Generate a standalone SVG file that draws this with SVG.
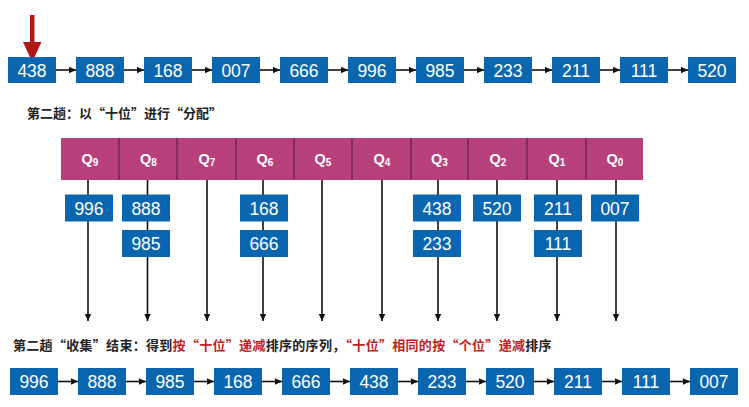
<svg xmlns="http://www.w3.org/2000/svg" width="749" height="407" viewBox="0 0 749 407">
<defs>
<marker id="ah" markerWidth="8" markerHeight="8" refX="7" refY="4" orient="auto" markerUnits="userSpaceOnUse">
<path d="M0,0.8 L7,4 L0,7.2 z" fill="#111"/>
</marker>
<style>
.b{fill:#0b66b0}
.n{font-family:"Liberation Sans",Arial,sans-serif;font-size:17.5px;fill:#fff;text-anchor:middle}
.c{stroke:#111;stroke-width:1.6;fill:none}
.v{stroke:#111;stroke-width:1.6;fill:none;marker-end:url(#ah)}
.q{font-family:"Liberation Sans",Arial,sans-serif;font-weight:bold;font-size:14.5px;fill:#fff;text-anchor:middle}
.s{font-size:10px}
.t{font-family:"Noto Sans CJK SC","Noto Sans",sans-serif;font-weight:bold;font-size:13px;fill:#222}
.r{fill:#c01f1f}
</style>
</defs>
<rect width="749" height="407" fill="#fff"/>

<!-- pointer arrow -->
<g id="pointer">
<rect x="30" y="15" width="4.5" height="28" fill="#b01818"/>
<path d="M23,42 L41.5,42 L32.2,62 z" fill="#b01818"/>
</g>

<!-- connectors -->
<g id="connectors">
<g id="top-links">
<line class="c" x1="56" y1="70" x2="76" y2="70" marker-end="url(#ah)"/>
<line class="c" x1="124" y1="70" x2="144" y2="70" marker-end="url(#ah)"/>
<line class="c" x1="192" y1="70" x2="212" y2="70" marker-end="url(#ah)"/>
<line class="c" x1="260" y1="70" x2="280" y2="70" marker-end="url(#ah)"/>
<line class="c" x1="328" y1="70" x2="348" y2="70" marker-end="url(#ah)"/>
<line class="c" x1="396" y1="70" x2="416" y2="70" marker-end="url(#ah)"/>
<line class="c" x1="464" y1="70" x2="484" y2="70" marker-end="url(#ah)"/>
<line class="c" x1="532" y1="70" x2="552" y2="70" marker-end="url(#ah)"/>
<line class="c" x1="600" y1="70" x2="620" y2="70" marker-end="url(#ah)"/>
<line class="c" x1="668" y1="70" x2="688" y2="70" marker-end="url(#ah)"/>
</g>
<g id="bucket-lines">
<line class="v" x1="88" y1="180" x2="88" y2="321"/>
<line class="v" x1="147.5" y1="180" x2="147.5" y2="321"/>
<line class="v" x1="207" y1="180" x2="207" y2="321"/>
<line class="v" x1="263" y1="180" x2="263" y2="321"/>
<line class="v" x1="322" y1="180" x2="322" y2="321"/>
<line class="v" x1="382" y1="180" x2="382" y2="321"/>
<line class="v" x1="438" y1="180" x2="438" y2="321"/>
<line class="v" x1="497" y1="180" x2="497" y2="321"/>
<line class="v" x1="557" y1="180" x2="557" y2="321"/>
<line class="v" x1="616" y1="180" x2="616" y2="321"/>
</g>
<g id="bottom-links">
<line class="c" x1="58" y1="381.5" x2="78" y2="381.5" marker-end="url(#ah)"/>
<line class="c" x1="126" y1="381.5" x2="146" y2="381.5" marker-end="url(#ah)"/>
<line class="c" x1="194" y1="381.5" x2="214" y2="381.5" marker-end="url(#ah)"/>
<line class="c" x1="262" y1="381.5" x2="282" y2="381.5" marker-end="url(#ah)"/>
<line class="c" x1="330" y1="381.5" x2="350" y2="381.5" marker-end="url(#ah)"/>
<line class="c" x1="398" y1="381.5" x2="418" y2="381.5" marker-end="url(#ah)"/>
<line class="c" x1="466" y1="381.5" x2="486" y2="381.5" marker-end="url(#ah)"/>
<line class="c" x1="534" y1="381.5" x2="554" y2="381.5" marker-end="url(#ah)"/>
<line class="c" x1="602" y1="381.5" x2="622" y2="381.5" marker-end="url(#ah)"/>
<line class="c" x1="670" y1="381.5" x2="690" y2="381.5" marker-end="url(#ah)"/>
</g>
</g>

<!-- top row -->
<g id="top-row">
<g id="t0"><rect class="b" x="8" y="57" width="48" height="26"/><text class="n" x="32" y="76.5">438</text></g>
<g id="t1"><rect class="b" x="76" y="57" width="48" height="26"/><text class="n" x="100" y="76.5">888</text></g>
<g id="t2"><rect class="b" x="144" y="57" width="48" height="26"/><text class="n" x="168" y="76.5">168</text></g>
<g id="t3"><rect class="b" x="212" y="57" width="48" height="26"/><text class="n" x="236" y="76.5">007</text></g>
<g id="t4"><rect class="b" x="280" y="57" width="48" height="26"/><text class="n" x="304" y="76.5">666</text></g>
<g id="t5"><rect class="b" x="348" y="57" width="48" height="26"/><text class="n" x="372" y="76.5">996</text></g>
<g id="t6"><rect class="b" x="416" y="57" width="48" height="26"/><text class="n" x="440" y="76.5">985</text></g>
<g id="t7"><rect class="b" x="484" y="57" width="48" height="26"/><text class="n" x="508" y="76.5">233</text></g>
<g id="t8"><rect class="b" x="552" y="57" width="48" height="26"/><text class="n" x="576" y="76.5">211</text></g>
<g id="t9"><rect class="b" x="620" y="57" width="48" height="26"/><text class="n" x="644" y="76.5">111</text></g>
<g id="t10"><rect class="b" x="688" y="57" width="48" height="26"/><text class="n" x="712" y="76.5">520</text></g>
</g>

<text id="title1" class="t" x="27" y="117.5">第二趟：以“十位”进行“分配”</text>

<!-- queue bar -->
<g id="queues">
<rect x="61" y="138" width="582" height="42" fill="#b8407a"/>
<g stroke="#4a2040" stroke-width="1">
<line x1="119" y1="138" x2="119" y2="180"/>
<line x1="177" y1="138" x2="177" y2="180"/>
<line x1="236" y1="138" x2="236" y2="180"/>
<line x1="294" y1="138" x2="294" y2="180"/>
<line x1="352" y1="138" x2="352" y2="180"/>
<line x1="411" y1="138" x2="411" y2="180"/>
<line x1="468" y1="138" x2="468" y2="180"/>
<line x1="527" y1="138" x2="527" y2="180"/>
<line x1="586" y1="138" x2="586" y2="180"/>
</g>
<text class="q" x="90" y="164">Q<tspan class="s" dy="2">9</tspan></text>
<text class="q" x="148.5" y="164">Q<tspan class="s" dy="2">8</tspan></text>
<text class="q" x="207" y="164">Q<tspan class="s" dy="2">7</tspan></text>
<text class="q" x="265" y="164">Q<tspan class="s" dy="2">6</tspan></text>
<text class="q" x="323" y="164">Q<tspan class="s" dy="2">5</tspan></text>
<text class="q" x="382" y="164">Q<tspan class="s" dy="2">4</tspan></text>
<text class="q" x="439.5" y="164">Q<tspan class="s" dy="2">3</tspan></text>
<text class="q" x="498" y="164">Q<tspan class="s" dy="2">2</tspan></text>
<text class="q" x="557" y="164">Q<tspan class="s" dy="2">1</tspan></text>
<text class="q" x="615" y="164">Q<tspan class="s" dy="2">0</tspan></text>
</g>

<!-- bucket contents -->
<g id="buckets">
<g id="q9a"><rect class="b" x="65" y="194.5" width="48" height="27"/><text class="n" x="89" y="214.5">996</text></g>
<g id="q8a"><rect class="b" x="122" y="194.5" width="48" height="27"/><text class="n" x="146" y="214.5">888</text></g>
<g id="q8b"><rect class="b" x="122" y="230" width="48" height="27"/><text class="n" x="146" y="250">985</text></g>
<g id="q6a"><rect class="b" x="240" y="194.5" width="48" height="27"/><text class="n" x="264" y="214.5">168</text></g>
<g id="q6b"><rect class="b" x="240" y="230" width="48" height="27"/><text class="n" x="264" y="250">666</text></g>
<g id="q3a"><rect class="b" x="413" y="194.5" width="48" height="27"/><text class="n" x="437" y="214.5">438</text></g>
<g id="q3b"><rect class="b" x="413" y="230" width="48" height="27"/><text class="n" x="437" y="250">233</text></g>
<g id="q2a"><rect class="b" x="473" y="194.5" width="48" height="27"/><text class="n" x="497" y="214.5">520</text></g>
<g id="q1a"><rect class="b" x="534" y="194.5" width="48" height="27"/><text class="n" x="558" y="214.5">211</text></g>
<g id="q1b"><rect class="b" x="534" y="230" width="48" height="27"/><text class="n" x="558" y="250">111</text></g>
<g id="q0a"><rect class="b" x="591" y="194.5" width="48" height="27"/><text class="n" x="615" y="214.5">007</text></g>
</g>

<text id="title2" class="t" x="13" y="350" font-size="13.5" letter-spacing="0.3">第二趟“收集”结束：得到<tspan class="r">按“十位”递减</tspan>排序的序列，<tspan class="r">“十位”相同的按“个位”递减</tspan>排序</text>

<!-- bottom row -->
<g id="bottom-row">
<g id="b0"><rect class="b" x="10" y="368" width="48" height="27"/><text class="n" x="34" y="388">996</text></g>
<g id="b1"><rect class="b" x="78" y="368" width="48" height="27"/><text class="n" x="102" y="388">888</text></g>
<g id="b2"><rect class="b" x="146" y="368" width="48" height="27"/><text class="n" x="170" y="388">985</text></g>
<g id="b3"><rect class="b" x="214" y="368" width="48" height="27"/><text class="n" x="238" y="388">168</text></g>
<g id="b4"><rect class="b" x="282" y="368" width="48" height="27"/><text class="n" x="306" y="388">666</text></g>
<g id="b5"><rect class="b" x="350" y="368" width="48" height="27"/><text class="n" x="374" y="388">438</text></g>
<g id="b6"><rect class="b" x="418" y="368" width="48" height="27"/><text class="n" x="442" y="388">233</text></g>
<g id="b7"><rect class="b" x="486" y="368" width="48" height="27"/><text class="n" x="510" y="388">520</text></g>
<g id="b8"><rect class="b" x="554" y="368" width="48" height="27"/><text class="n" x="578" y="388">211</text></g>
<g id="b9"><rect class="b" x="622" y="368" width="48" height="27"/><text class="n" x="646" y="388">111</text></g>
<g id="b10"><rect class="b" x="690" y="368" width="48" height="27"/><text class="n" x="714" y="388">007</text></g>
</g>
</svg>
